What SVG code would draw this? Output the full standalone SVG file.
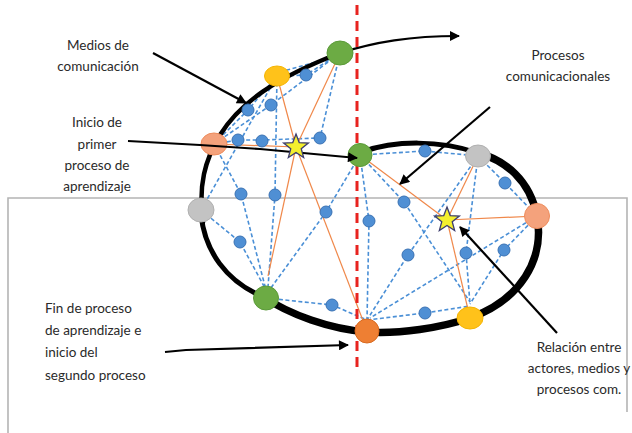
<svg xmlns="http://www.w3.org/2000/svg" width="632" height="433" viewBox="0 0 632 433">
<style>
.frame{fill:none;stroke:#b4b4b4;stroke-width:1.6}
.bl{fill:none;stroke:#4a8fd6;stroke-width:1.6;stroke-dasharray:4 2.5}
.or{fill:none;stroke:#f0884a;stroke-width:1.2}
.curve{fill:none;stroke:#000;stroke-linecap:round}
.red{fill:none;stroke:#e8231f;stroke-width:3;stroke-dasharray:10 6}
.arr{fill:none;stroke:#000;stroke-width:2.2}
.dot{fill:#4f8fd4;stroke:#3a72b4;stroke-width:1}
.green{fill:#6cab44;stroke:#5a9a38;stroke-width:1}
.yellow{fill:#ffc21a;stroke:#f5b400;stroke-width:1}
.salmon{fill:#f4a27c;stroke:#ee8c5c;stroke-width:1}
.gray{fill:#c3c3c3;stroke:#b0b0b0;stroke-width:1}
.orange{fill:#ee7f33;stroke:#d86a20;stroke-width:1}
.star{fill:#f4ef2e;stroke:#3c3c6e;stroke-width:1.3}
text{font-family:Lato,"Open Sans","Liberation Sans",sans-serif;font-size:13.5px;fill:#2a2a2a}
</style>
<defs>
<marker id="ah" viewBox="0 0 10 10" refX="9" refY="5" markerWidth="11" markerHeight="10" markerUnits="userSpaceOnUse" orient="auto">
<path d="M0,0 L10,5 L0,10 z" fill="#000"/>
</marker>
<polygon id="st" points="0,-13 3.23,-4.45 12.36,-4.02 5.23,1.7 7.64,10.52 0,5.5 -7.64,10.52 -5.23,1.7 -12.36,-4.02 -3.23,-4.45"/>
</defs>

<g id="frame">
<path class="frame" d="M8,433 L8,198 L627,198 L627,412"/>
</g>

<g id="connectors">
<!-- blue dashed relations, left loop -->
<path class="bl" d="M277,76 L306,75 L340,53"/>
<path class="bl" d="M280,72 L338,56"/>
<path class="bl" d="M214,144 L248,110 L277,76"/>
<path class="bl" d="M214,144 L271,105 L340,53"/>
<path class="bl" d="M277,76 L275,195 L268,287"/>
<path class="bl" d="M201,210 L277,76"/>
<path class="bl" d="M214,144 L238,140 L262,140 L320,138 L340,53"/>
<path class="bl" d="M214,144 L241,194 L266,290"/>
<path class="bl" d="M201,210 L240,242 L266,290"/>
<path class="bl" d="M360,155 L326,212 L268,292"/>
<path class="bl" d="M266,298 L332,305 L367,320"/>
<!-- blue dashed relations, right loop -->
<path class="bl" d="M360,155 L425,151 L478,156"/>
<path class="bl" d="M478,156 L505,183 L537,216"/>
<path class="bl" d="M360,155 L404,202 L470,302"/>
<path class="bl" d="M478,156 L466,253 L470,304"/>
<path class="bl" d="M478,156 L408,255 L367,320"/>
<path class="bl" d="M537,216 L370,318"/>
<path class="bl" d="M537,216 L504,250 L470,304"/>
<path class="bl" d="M360,155 L369,221 L367,320"/>
<path class="bl" d="M367,320 L425,313 L470,306"/>
<!-- orange relations to the stars -->
<path class="or" d="M277,76 L296,147"/>
<path class="or" d="M340,53 L296,147"/>
<path class="or" d="M214,144 L296,147"/>
<path class="or" d="M296,147 L268,276"/>
<path class="or" d="M296,147 L367,331"/>
<path class="or" d="M360,155 L447,220"/>
<path class="or" d="M478,156 L447,220"/>
<path class="or" d="M537,216 L447,220"/>
<path class="or" d="M447,220 L470,318"/>
<!-- black outline loops -->
<path class="curve" stroke-width="4.5" d="M203,222 C198,185 205,160 220,135 C240,103 275,78 340,53"/>
<path class="curve" stroke-width="5" d="M201,215 C205,250 225,282 266,298"/>
<path class="curve" stroke-width="7.5" d="M262,296 C290,315 330,329 367,332 C400,334 440,328 470,318 C520,300 545,260 537,216 C530,180 505,160 478,153"/>
<path class="curve" stroke-width="5" d="M478,153 C440,140 395,140 362,152"/>
<path class="arr" stroke-width="2.5" d="M340,53 C375,42 410,36 459,36" marker-end="url(#ah)"/>
<!-- red dashed divider -->
<path class="red" d="M357,5 L357,372"/>
</g>

<g id="nodes">
<ellipse id="n-green-top" class="green" cx="340" cy="53" rx="13" ry="12"/>
<ellipse id="n-yellow-top" class="yellow" cx="277" cy="76" rx="12.5" ry="10"/>
<ellipse id="n-salmon-left" class="salmon" cx="214" cy="144" rx="13" ry="11"/>
<ellipse id="n-gray-left" class="gray" cx="201" cy="210" rx="13" ry="12"/>
<ellipse id="n-green-bottom" class="green" cx="266" cy="298" rx="12.5" ry="12"/>
<ellipse id="n-orange-bottom" class="orange" cx="367" cy="331" rx="12" ry="12"/>
<ellipse id="n-yellow-bottom" class="yellow" cx="470" cy="318" rx="13" ry="11"/>
<ellipse id="n-salmon-right" class="salmon" cx="537" cy="216" rx="12.5" ry="12.5"/>
<ellipse id="n-gray-right" class="gray" cx="478" cy="156" rx="12.5" ry="11"/>
<ellipse id="n-green-mid" class="green" cx="360" cy="155" rx="12" ry="11.5"/>
</g>

<g id="dots">
<circle class="dot" cx="306" cy="75" r="6"/>
<circle class="dot" cx="248" cy="110" r="6"/>
<circle class="dot" cx="271" cy="105" r="6"/>
<circle class="dot" cx="238" cy="140" r="6"/>
<circle class="dot" cx="262" cy="141" r="6"/>
<circle class="dot" cx="320" cy="138" r="6"/>
<circle class="dot" cx="241" cy="194" r="6"/>
<circle class="dot" cx="275" cy="195" r="6"/>
<circle class="dot" cx="326" cy="212" r="6"/>
<circle class="dot" cx="369" cy="221" r="6"/>
<circle class="dot" cx="240" cy="242" r="6"/>
<circle class="dot" cx="332" cy="305" r="6"/>
<circle class="dot" cx="425" cy="151" r="6"/>
<circle class="dot" cx="505" cy="183" r="6"/>
<circle class="dot" cx="404" cy="202" r="6"/>
<circle class="dot" cx="408" cy="255" r="6"/>
<circle class="dot" cx="466" cy="253" r="6"/>
<circle class="dot" cx="504" cy="250" r="6"/>
<circle class="dot" cx="425" cy="313" r="6"/>
</g>

<g id="pointer-arrows">
<path class="arr" d="M153,53 L246,103" marker-end="url(#ah)"/>
<path class="arr" stroke-width="2.8" d="M128,141 L200,145 L260,149 L357,158" marker-end="url(#ah)"/>
<path class="arr" d="M490,107 L400,184" marker-end="url(#ah)"/>
<path class="arr" stroke-width="2.5" d="M557,333 L460,227" marker-end="url(#ah)"/>
<path class="arr" d="M165,352 L186,350 L348,345" marker-end="url(#ah)"/>
</g>

<g id="stars">
<use href="#st" class="star" x="296" y="147"/>
<use href="#st" class="star" x="447" y="220"/>
</g>

<g id="labels">
<text x="98" y="50" text-anchor="middle">Medios de</text>
<text x="98" y="71" text-anchor="middle">comunicación</text>
<text x="97" y="127" text-anchor="middle">Inicio de</text>
<text x="97" y="149" text-anchor="middle">primer</text>
<text x="97" y="170" text-anchor="middle">proceso de</text>
<text x="97" y="191" text-anchor="middle">aprendizaje</text>
<text x="558" y="60" text-anchor="middle">Procesos</text>
<text x="558" y="81" text-anchor="middle">comunicacionales</text>
<text x="579" y="352" text-anchor="middle">Relación entre</text>
<text x="579" y="373" text-anchor="middle">actores, medios y</text>
<text x="579" y="394" text-anchor="middle">procesos com.</text>
<text x="45" y="313">Fin de proceso</text>
<text x="45" y="335">de aprendizaje e</text>
<text x="45" y="357">inicio del</text>
<text x="45" y="380">segundo proceso</text>
</g>
</svg>
